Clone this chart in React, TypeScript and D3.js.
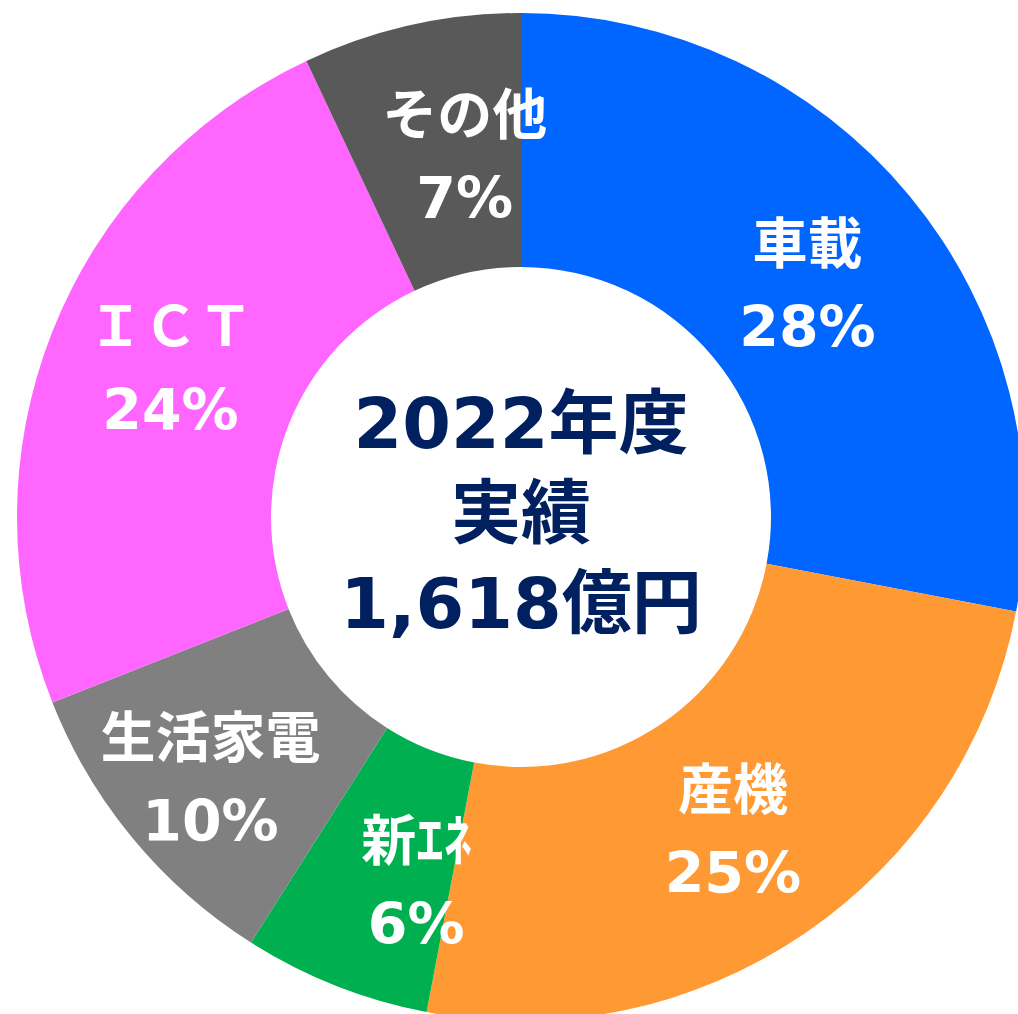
import React, { useEffect, useRef } from "react";
import * as d3 from "d3";

// 2022年度 segment breakdown (%)
const categories = ["車載", "産機", "新ｴﾈ", "生活家電", "ＩＣＴ", "その他"];
const shares = [28, 25, 6, 10, 24, 7];
const colors = ["#0066FF", "#FF9933", "#00B050", "#808080", "#FF66FF", "#595959"];
const centerLines = ["2022年度", "実績", "1,618億円"];

const W = 1018;
const H = 1014;

export default function App() {
  const ref = useRef<SVGSVGElement | null>(null);

  useEffect(() => {
    const svg = d3.select(ref.current);
    svg.selectAll("*").remove();

    const cx = 521, cy = 517;
    const outerR = 504, innerR = 250, labelR = 377;

    const data = categories.map((c, i) => ({ name: c, value: shares[i], color: colors[i] }));

    const pie = d3.pie<any>().value(d => d.value).sort(null);
    const arcs = pie(data);

    const arc = d3.arc<any>().innerRadius(innerR).outerRadius(outerR);
    const labelArc = d3.arc<any>().innerRadius(labelR).outerRadius(labelR);

    const g = svg.append("g").attr("transform", `translate(${cx},${cy})`);

    g.selectAll("path.slice")
      .data(arcs)
      .enter()
      .append("path")
      .attr("class", "slice")
      .attr("d", arc)
      .attr("fill", d => d.data.color);

    // small hand nudges so labels sit where the original has them
    const tweak: Record<string, [number, number]> = {
      "新ｴﾈ": [34, 12],
      "生活家電": [-20, 20],
      "その他": [26, 5],
      "車載": [-4, 6],
      "ＩＣＴ": [0, -12],
    };

    const font = "'DejaVu Sans', 'Noto Sans CJK JP', sans-serif";

    const labels = g.selectAll("g.label")
      .data(arcs)
      .enter()
      .append("g")
      .attr("class", "label")
      .attr("transform", d => {
        const [x, y] = labelArc.centroid(d);
        const t = tweak[d.data.name] || [0, 0];
        return `translate(${x + t[0]},${y + t[1]})`;
      });

    labels.append("text")
      .attr("y", -20)
      .attr("text-anchor", "middle")
      .attr("fill", "#fff")
      .attr("font-family", font)
      .attr("font-weight", "bold")
      .attr("font-size", 55)
      .text(d => d.data.name);

    labels.append("text")
      .attr("y", 64)
      .attr("text-anchor", "middle")
      .attr("fill", "#fff")
      .attr("font-family", font)
      .attr("font-weight", "bold")
      .attr("font-size", 57)
      .text(d => `${d.data.value}%`);

    g.selectAll("text.center")
      .data(centerLines)
      .enter()
      .append("text")
      .attr("class", "center")
      .attr("x", 0)
      .attr("y", (d, i) => -69 + i * 90)
      .attr("text-anchor", "middle")
      .attr("fill", "#002060")
      .attr("font-family", font)
      .attr("font-weight", "bold")
      .attr("font-size", 70)
      .text(d => d);
  }, []);

  return (
    <svg
      ref={ref}
      width={W}
      height={H}
      style={{ position: "absolute", left: 0, top: 0, display: "block", background: "#fff" }}
    />
  );
}
